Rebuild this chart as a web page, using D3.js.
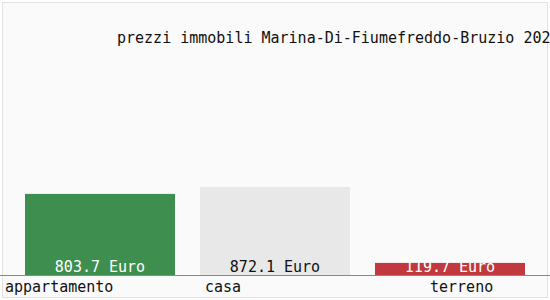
<!DOCTYPE html>
<html>
<head>
<meta charset="utf-8">
<script src="https://cdn.jsdelivr.net/npm/d3@7"></script>
<style>
  body { margin: 0; background: #ffffff; }
  svg text { font-family: "DejaVu Sans Mono", monospace; font-size: 15px; }
</style>
</head>
<body>
<svg id="chart" width="550" height="300"></svg>
<script>
const title = "prezzi immobili Marina-Di-Fiumefreddo-Bruzio 2024";
const categories = ["appartamento", "casa", "terreno"];
const values = [803.7, 872.1, 119.7];
const valueLabels = ["803.7 Euro", "872.1 Euro", "119.7 Euro"];
const colors = ["#3e8e4f", "#e8e8e8", "#c1393f"];
const textColors = ["#ffffff", "#111111", "#ffffff"];

const svg = d3.select("#chart");
const baseline = 275;

// frame
svg.append("rect")
  .attr("x", 2.5).attr("y", 2.5)
  .attr("width", 545).attr("height", 295)
  .attr("fill", "#fafafa")
  .attr("stroke", "#e2e2e2");

svg.append("text")
  .attr("x", 117)
  .attr("y", 43)
  .attr("fill", "#111")
  .text(title);

const x = d3.scaleBand()
  .domain(categories)
  .range([12.5, 537.5])
  .paddingInner(1 / 7)
  .paddingOuter(1 / 14);

const y = d3.scaleLinear()
  .domain([0, 872.1])
  .range([baseline, 187]);

svg.selectAll(".bar")
  .data(categories)
  .enter()
  .append("rect")
  .attr("class", "bar")
  .attr("x", (d) => x(d))
  .attr("y", (d, i) => y(values[i]))
  .attr("width", x.bandwidth())
  .attr("height", (d, i) => baseline - y(values[i]))
  .attr("fill", (d, i) => colors[i]);

svg.selectAll(".val")
  .data(categories)
  .enter()
  .append("text")
  .attr("class", "val")
  .attr("x", (d) => x(d) + x.bandwidth() / 2)
  .attr("y", baseline - 3)
  .attr("text-anchor", "middle")
  .attr("fill", (d, i) => textColors[i])
  .text((d, i) => valueLabels[i]);

// axis line
svg.append("line")
  .attr("x1", 0).attr("x2", 550)
  .attr("y1", baseline + 0.5).attr("y2", baseline + 0.5)
  .attr("stroke", "#888")
  .attr("stroke-width", 1);

// category labels sit at uneven offsets in the original
const labelX = [5, 205, 430];
svg.selectAll(".cat")
  .data(categories)
  .enter()
  .append("text")
  .attr("class", "cat")
  .attr("x", (d, i) => labelX[i])
  .attr("y", 292)
  .attr("fill", "#111")
  .text((d) => d);
</script>
</body>
</html>
